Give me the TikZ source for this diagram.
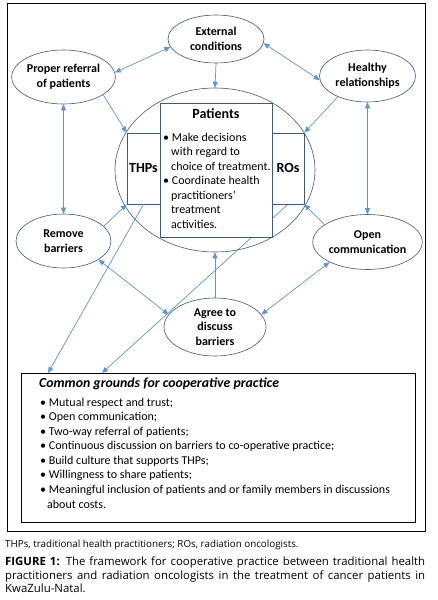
\documentclass[tikz,border=0pt]{standalone}
\usepackage{fontspec}
\setmainfont{Carlito}
\newfontfamily\capfont{Open Sans}
\usetikzlibrary{shapes.geometric,arrows.meta,backgrounds}
\definecolor{arrowblue}{RGB}{96,150,205}
\definecolor{edgeblue}{RGB}{60,90,125}
\begin{document}
\begin{tikzpicture}[x=1pt,y=-1pt,
  >={Triangle[length=6pt,width=5pt]},
  oval/.style={ellipse, draw=edgeblue, line width=0.6pt, inner sep=0pt, align=center,
    font=\bfseries\fontsize{12}{15}\selectfont},
  sbox/.style={rectangle, draw=edgeblue, line width=0.6pt, fill=white, inner sep=0pt},
  link/.style={draw=arrowblue, line width=0.7pt},
  lbl/.style={inner sep=0pt, anchor=base west, font=\fontsize{12}{14.5}\selectfont},
  boxlbl/.style={inner sep=0pt, anchor=base, font=\bfseries\fontsize{14}{16}\selectfont}]
\begin{scope}[on background layer]
\fill[white] (0,0) rectangle (437,600);
\end{scope}
\useasboundingbox (0,0) rectangle (437,600);
% frames
\draw[black, line width=0.9pt] (7,3) rectangle (425,531);
\node[rectangle, draw=black, line width=0.8pt, minimum width=394pt, minimum height=149pt, inner sep=0pt] (cg) at (218,447.5) {};
% ellipses
\node[oval, minimum width=96pt, minimum height=48pt] (ext) at (216,39) {External\\conditions};
\node[oval, minimum width=100pt, minimum height=54pt] (prop) at (63.5,77) {Proper referral\\of patients};
\node[oval, minimum width=96pt, minimum height=52pt] (heal) at (367.5,76) {Healthy\\relationships};
\node[oval, minimum width=95pt, minimum height=54pt] (remb) at (63.5,241) {Remove\\barriers};
\node[oval, minimum width=98pt, minimum height=55pt] (openc) at (367.5,242) {Open\\communication};
\node[oval, minimum width=102pt, minimum height=58pt, font=\bfseries\fontsize{12}{14.5}\selectfont] (agree) at (215,327) {Agree to\\discuss\\barriers};
\node[ellipse, draw=edgeblue, line width=0.6pt, minimum width=200pt, minimum height=164pt, inner sep=0pt] (circ) at (215,170) {};
% boxes
\node[sbox, minimum width=112pt, minimum height=134pt] (pat) at (216,170) {};
\node[sbox, minimum width=33pt, minimum height=71pt] (thp) at (143.5,168.5) {};
\node[sbox, minimum width=32pt, minimum height=71pt] (ros) at (288,168.5) {};
\coordinate (cg1) at (48,373);
\coordinate (cg2) at (102,373);
\begin{scope}[on background layer]
\draw[link,->] (ros.south) -- (cg2);
\end{scope}
% connectors
\draw[link,<->] (ext.190) -- (prop.5);
\draw[link,<->] (ext.-5) -- (heal.185);
\draw[link,->] (ext.south) -- (circ.north);
\draw[link,->] (prop.-24) -- (thp.north west);
\draw[link,->] (heal.215) -- (ros.north east);
\draw[link,<->] (prop.south) -- (remb.north);
\draw[link,<->] (heal.south) -- (openc.north);
\draw[link,->] (remb.20) -- (thp.south west);
\draw[link,->] (openc.158) -- (ros.south east);
\draw[link,<->] (remb.-28) -- (agree.165);
\draw[link,<->] (openc.208) -- (agree.15);
\draw[link,->] (agree.north) -- (circ.south);
\draw[link,->] (thp.south) -- (cg1);
% box texts
\node[boxlbl] (pattitle) at (216,118) {Patients};
\node[boxlbl] (thplbl) at (143.5,172) {THPs};
\node[boxlbl] (roslbl) at (288,172) {ROs};
\node[lbl] (p1) at (163,141) {\textbullet\ Make decisions};
\node[lbl] (p2) at (171,155.5) {with regard to};
\node[lbl] (p3) at (171,170) {choice of treatment.};
\node[lbl] (p4) at (163,184.5) {\textbullet\ Coordinate health};
\node[lbl] (p5) at (171,199) {practitioners’};
\node[lbl] (p6) at (171,213.5) {treatment};
\node[lbl] (p7) at (171,228) {activities.};
% common grounds
\node[inner sep=0pt, anchor=base west, font=\bfseries\itshape\fontsize{13.8}{16}\selectfont] (cgtitle) at (39,387) {Common grounds for cooperative practice};
\node[lbl] (c1) at (40,406) {\textbullet\ Mutual respect and trust;};
\node[lbl] (c2) at (40,420.5) {\textbullet\ Open communication;};
\node[lbl] (c3) at (40,435) {\textbullet\ Two-way referral of patients;};
\node[lbl] (c4) at (40,449.5) {\textbullet\ Continuous discussion on barriers to co-operative practice;};
\node[lbl] (c5) at (40,464) {\textbullet\ Build culture that supports THPs;};
\node[lbl] (c6) at (40,478.5) {\textbullet\ Willingness to share patients;};
\node[lbl] (c7) at (40,493) {\textbullet\ Meaningful inclusion of patients and or family members in discussions};
\node[lbl] (c8) at (47,508) {about costs.};
% captions
\node[inner sep=0pt, anchor=base west, font=\capfont\fontsize{9.8}{11}\selectfont] (abbr) at (5,547) {THPs, traditional health practitioners; ROs, radiation oncologists.};
\node[inner sep=0pt, anchor=north west, text width=420pt, align=justify, font=\capfont\fontsize{11.4}{13.4}\selectfont] (cap) at (5,557) {\textbf{FIGURE 1:} The framework for cooperative practice between traditional health practitioners and radiation oncologists in the treatment of cancer patients in KwaZulu-Natal.};
\end{tikzpicture}
\end{document}
